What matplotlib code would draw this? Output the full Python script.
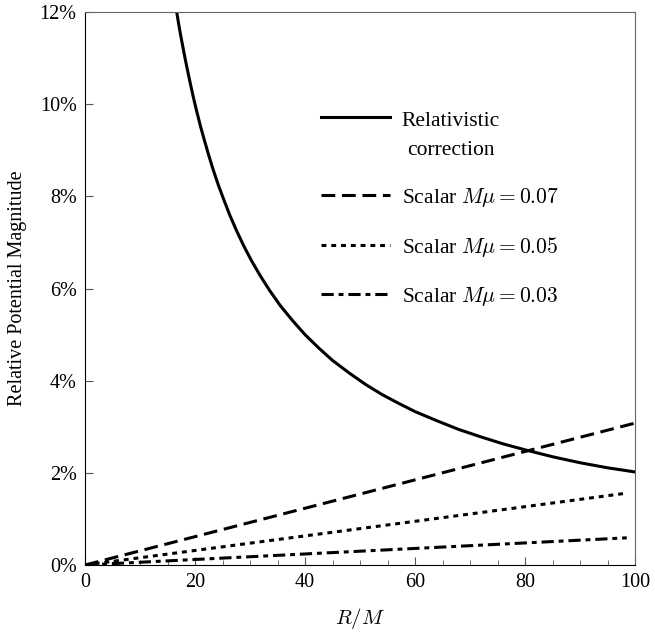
import matplotlib
matplotlib.use("Agg")
import matplotlib.pyplot as plt
from matplotlib.ticker import MultipleLocator, FuncFormatter

plt.rcParams["font.family"] = ["Liberation Serif", "DejaVu Serif"]
plt.rcParams["mathtext.fontset"] = "cm"

# relativistic correction curve (R/M, percent)
rel_x = [16.7, 17.0, 17.4, 17.8, 18.2, 18.7, 19.2, 19.7, 20.3, 21.0, 21.7,
         22.5, 23.3, 24.2, 25.2, 26.3, 27.5, 28.8, 30.2, 31.8, 33.5, 35.5,
         37.7, 40, 42.5, 45, 48, 51, 54, 57, 60, 64, 68, 72, 76, 80, 85, 90,
         95, 100]
rel_y = [11.98, 11.76, 11.49, 11.24, 10.99, 10.70, 10.42, 10.15, 9.85, 9.52,
         9.22, 8.89, 8.58, 8.26, 7.94, 7.60, 7.27, 6.94, 6.62, 6.29, 5.97,
         5.63, 5.31, 5.0, 4.71, 4.44, 4.17, 3.92, 3.70, 3.51, 3.33, 3.13,
         2.94, 2.78, 2.63, 2.50, 2.35, 2.22, 2.11, 2.02]

# scalar potentials, nearly straight lines from the origin
s07_x = [0, 50, 100]
s07_y = [0, 1.54, 3.08]
s05_x = [0, 50, 98.5]
s05_y = [0, 0.79, 1.56]
s03_x = [0, 50, 98.5]
s03_y = [0, 0.30, 0.59]

labels = ["Relativistic\ncorrection",
          r"Scalar $M\mu=0.07$",
          r"Scalar $M\mu=0.05$",
          r"Scalar $M\mu=0.03$"]

fig = plt.figure(figsize=(6.55, 6.37), dpi=100)
ax = fig.add_axes([0.1298, 0.113, 0.8397, 0.868])

ax.plot(rel_x, rel_y, color="black", lw=2.2, ls="-", label=labels[0])
ax.plot(s07_x, s07_y, color="black", lw=2.2, ls=(0, (4.5, 2.2)), label=labels[1])
ax.plot(s05_x, s05_y, color="black", lw=2.2, ls=(0, (1.6, 1.6)), label=labels[2])
ax.plot(s03_x, s03_y, color="black", lw=2.2, ls=(0, (4, 1.6, 1.6, 1.6)), label=labels[3])

ax.set_xlim(0, 100)
ax.set_ylim(0, 12)
ax.xaxis.set_major_locator(MultipleLocator(20))
ax.xaxis.set_minor_locator(MultipleLocator(5))
ax.yaxis.set_major_locator(MultipleLocator(2))
ax.yaxis.set_major_formatter(FuncFormatter(lambda v, p: f"{v:.0f}%"))
ax.tick_params(which="both", direction="in", top=False, right=False,
               labelsize=14.5, pad=6, color="#555555")
ax.tick_params(which="major", length=6)
ax.tick_params(which="minor", length=3.5)
for side in ["top", "right"]:
    ax.spines[side].set_color("#666666")
for side in ["left", "bottom"]:
    ax.spines[side].set_color("black")

ax.set_xlabel(r"$R/M$", fontsize=15, labelpad=10)
ax.set_ylabel("Relative Potential Magnitude", fontsize=14.5, labelpad=9)

leg = ax.legend(loc="upper left", bbox_to_anchor=(0.394, 0.855), frameon=False,
                fontsize=15.5, handlelength=3.2, handletextpad=0.55,
                labelspacing=1.2)
for t in leg.get_texts():
    t.set_multialignment("center")
leg.get_texts()[0].set_linespacing(1.75)
# keep the solid handle level with the first line of its two-line label
h0 = leg.legend_handles[0]
h0.set_ydata([y + 0.85 * 15.5 for y in h0.get_ydata()])

fig.savefig("out.png", dpi=100)
